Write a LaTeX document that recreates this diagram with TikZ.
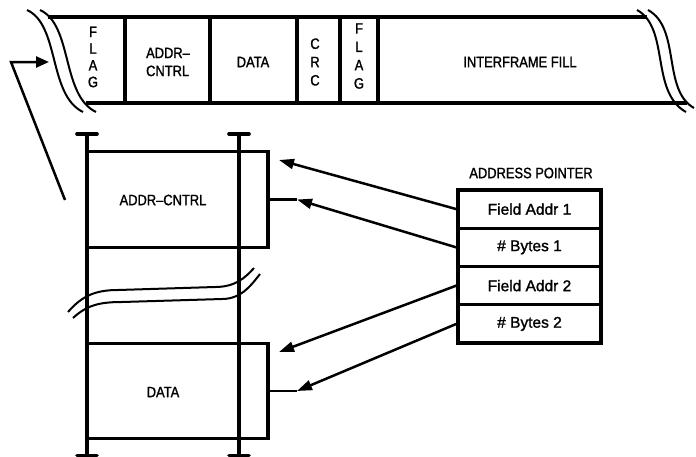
\documentclass[tikz,border=0pt]{standalone}
\usepackage{fontspec}
\setmainfont{Liberation Sans}
\newfontfamily\cadnarrow[FakeStretch=0.86,FakeBold=1.4]{Liberation Sans}
\newfontfamily\cadwide[FakeBold=1.4]{Liberation Sans}
\usetikzlibrary{arrows.meta}
\tikzset{
  heavy/.style={line width=3.3pt},
  wave/.style={line width=2pt},
  stub/.style={line width=2.2pt},
  ptr/.style={line width=2.5pt, -{Triangle[length=15pt,width=10pt]}},
  capline/.style={line width=3.6pt, line cap=round},
  lbl/.style={inner sep=0pt, font=\cadnarrow\fontsize{15}{18}\selectfont},
  vlbl/.style={lbl, align=center},
  fieldbox/.style={heavy, draw, rectangle, inner sep=0pt, minimum width=181pt, minimum height=95.5pt},
  ptrrow/.style={heavy, draw, rectangle, inner sep=0pt, minimum width=143pt, minimum height=38.25pt, font=\cadwide\fontsize{15.5}{18}\selectfont}
}
\begin{document}
\begin{tikzpicture}[x=1pt,y=-1pt]
\useasboundingbox (0,0) rectangle (696,456);

% ---------- frame band ----------
\draw[heavy] (48,17) -- (647,17);
\draw[heavy] (86,103) -- (687,103);
\foreach \xx in {125,210,297,340,378} \draw[heavy] (\xx,17) -- (\xx,103);
% left break
\draw[wave] (27,10) .. controls (60,25) and (48,95) .. (83,112);
\draw[wave] (40,10) .. controls (73,25) and (61,95) .. (96,112);
% right break
\draw[wave] (637,10) .. controls (670,28) and (650,92) .. (686,112);
\draw[wave] (648,10) .. controls (681,28) and (662,90) .. (694,108);

\node[vlbl, font=\cadnarrow\fontsize{15}{16.7}\selectfont] (flag1) at (93,57) {F\\L\\A\\G};
\node[lbl, align=left] (addrtop) at (168,62) {ADDR–\\CNTRL};
\node[lbl] (datatop) at (253,62) {DATA};
\node[vlbl, font=\cadnarrow\fontsize{15}{18.3}\selectfont] (crc) at (315,62) {C\\R\\C};
\node[vlbl, font=\cadnarrow\fontsize{15}{18.3}\selectfont] (flag2) at (359,56) {F\\L\\A\\G};
\node[lbl] (fill) at (520,62) {INTERFRAME FILL};

% left pointer arrow
\coordinate (la0) at (65,200);
\coordinate (la1) at (11,62);
\coordinate (la2) at (49,62);
\draw[line width=2.5pt, -{Triangle[length=13pt,width=11pt]}] (la0) -- (la1) -- (la2);

% ---------- buffer ----------
\draw[heavy] (87,134) -- (87,456);
\draw[heavy] (239,134) -- (239,456);
\draw[capline] (77,134) -- (97,134);
\draw[capline] (229,134) -- (249,134);
\draw[capline] (77,455.5) -- (97,455.5);
\draw[capline] (229,455.5) -- (249,455.5);

\node[fieldbox] (acbox) at (177.5,199.5) {};
\node[lbl] (actext) at (163,200) {ADDR–CNTRL};
\node[fieldbox] (dbox) at (177.5,391) {};
\node[lbl] (dtext) at (163,392) {DATA};

% break in the buffer
\draw[wave] (68,312) .. controls (82,296) and (95,290) .. (118,290) -- (215,287)
  .. controls (235,287) and (245,278) .. (254,268);
\draw[wave] (73,318) .. controls (87,305) and (100,302) .. (122,302) -- (222,299)
  .. controls (242,299) and (252,284) .. (260,274);

% stubs and arrow targets
\coordinate (acin) at (297,199.5);
\coordinate (actop) at (279,160);
\coordinate (din) at (297,391);
\coordinate (dtop) at (279,352);
\draw[stub] (acbox.east) -- (acin);
\draw[stub] (dbox.east) -- (din);

% ---------- address pointer ----------
\node[lbl] (aptitle) at (531,173) {ADDRESS POINTER};
\node[ptrrow] (fa1) at (529.5,209.1) {Field Addr 1};
\node[ptrrow] (nb1) at (529.5,247.4) {\# Bytes 1};
\node[ptrrow] (fa2) at (529.5,285.6) {Field Addr 2};
\node[ptrrow] (nb2) at (529.5,323.9) {\# Bytes 2};

\draw[ptr] (fa1.west) -- (actop);
\draw[ptr] (nb1.west) -- (acin);
\draw[ptr] (fa2.west) -- (dtop);
\draw[ptr] (nb2.west) -- (din);
\end{tikzpicture}
\end{document}
